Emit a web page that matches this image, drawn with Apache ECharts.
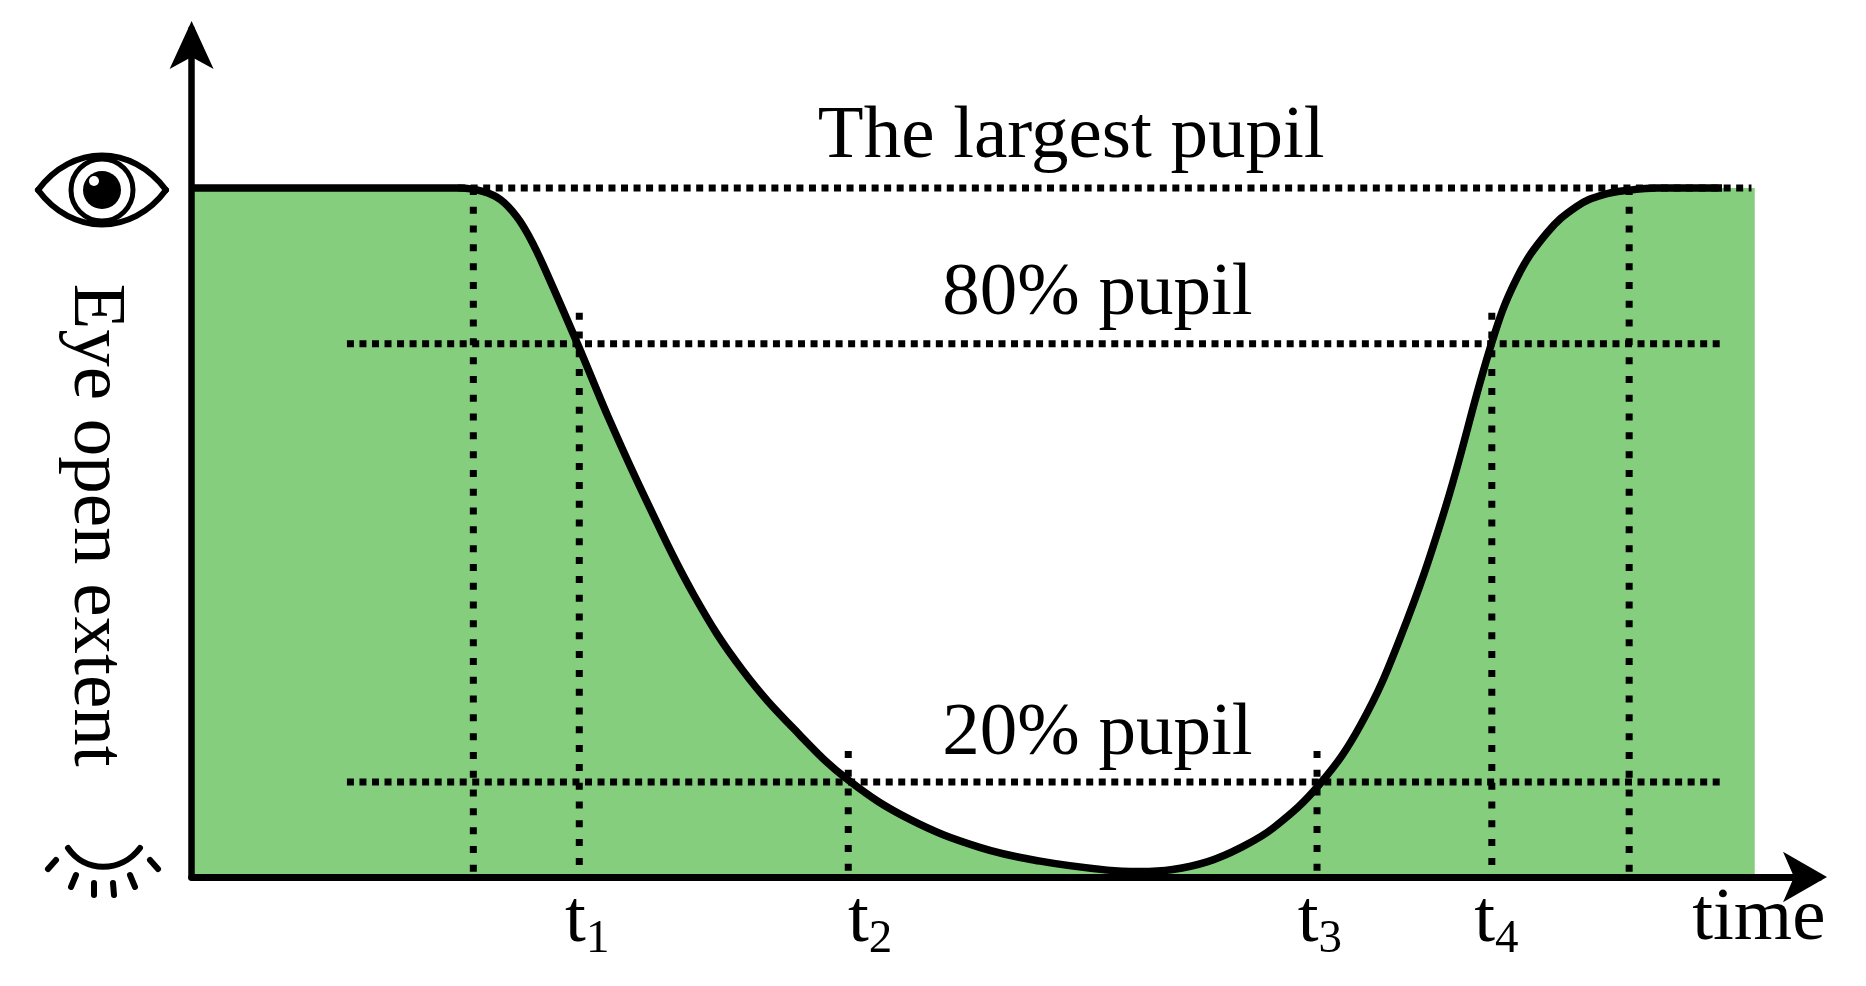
<!DOCTYPE html>
<html>
<head>
<meta charset="utf-8">
<title>Eye open extent</title>
<script src="https://cdn.jsdelivr.net/npm/echarts@6/dist/echarts.min.js"></script>
<style>
  html, body { margin: 0; height: 100%; background: #fff; }
  #chart { width: 1866px; height: 986px; }
</style>
</head>
<body>
<div id="chart"></div>
<script>
// time is in arbitrary units along the x axis, eye extent is 100 at the largest pupil
const curveTime = [0, 6.5, 16.4, 17.8, 18.9, 19.9, 20.7, 21.5, 23.6, 25.6, 27.8, 30.7, 33.7, 37.2, 40.2, 43.9, 48.2, 51.9, 56, 58, 60, 62.1, 64.1, 66.2, 69, 71.5, 73.9, 76.6, 79.5, 81.05, 82.9, 84.7, 86.3, 88, 89.6, 93.6];
const curveExtent = [100, 100, 100, 99.5, 98.3, 95.8, 92.7, 88.8, 77.4, 66.1, 54.7, 41, 30, 20.6, 14, 8.4, 4.3, 2.3, 1, 0.8, 1.1, 2.2, 4.2, 7.2, 13.5, 22.1, 34.6, 53, 77.4, 86.9, 93.5, 97.3, 99, 99.7, 100, 100];
const fillEndTime = 95.6;

const guideLevels = [100, 77.4, 13.8];
const guideStart = [16.3, 9.5, 9.5];
const guideEnd = [95.4, 93.6, 93.6];
const guideNames = ["The largest pupil", "80% pupil", "20% pupil"];
const guideNameTime = [53.8, 55.4, 55.4];
const guideNameExtent = [107.3, 84.5, 20.7];

const markTime = [17.23, 23.71, 40.16, 68.83, 79.52, 87.92];
const markTop = [100, 81.9, 18.3, 18.3, 81.9, 100];

const tickNames = ["1", "2", "3", "4"];
const tickNameTime = [24.2, 41.5, 69, 79.8];
const tickNameExtent = -6.5;

const xAxisName = "time";
const xAxisNameTime = 95.85;
const xAxisNameExtent = -6.2;
const yAxisName = "Eye open extent";

const serif = "Liberation Serif";
const curve = curveTime.map((t, i) => [t, curveExtent[i]]);

const guideSeries = guideLevels.map((level, i) => ({
  type: "line",
  silent: true,
  symbol: "none",
  z: 3,
  lineStyle: { color: "#000", width: 7, type: [7, 5.53], cap: "butt" },
  data: [[guideStart[i], level], [guideEnd[i], level]],
}));

const markSeries = markTime.map((t, i) => ({
  type: "line",
  silent: true,
  symbol: "none",
  z: 3,
  lineStyle: { color: "#000", width: 7, type: [7, 11.8], cap: "butt" },
  data: [[t, markTop[i]], [t, 0]],
}));

const iconLine = { fill: "none", stroke: "#000", lineWidth: 6, lineCap: "round" };
const lash = (x1, y1, x2, y2) => ({ type: "line", shape: { x1, y1, x2, y2 }, style: iconLine });

const chart = echarts.init(document.getElementById("chart"));
chart.setOption({
  animation: false,
  backgroundColor: "#fff",
  // the axis ends sit 8px short of the arrow tips so the lines stop inside the arrow heads
  grid: { left: 191.6, right: 47, top: 29, bottom: 109 },
  xAxis: {
    type: "value",
    min: 0,
    max: 99.53,
    z: 6,
    axisLine: { onZero: false, symbol: ["none", "arrow"], symbolSize: [38, 44], symbolOffset: [0, 8], lineStyle: { color: "#000", width: 7 } },
    axisTick: { show: false },
    axisLabel: { show: false },
    splitLine: { show: false },
  },
  yAxis: {
    type: "value",
    min: 0,
    max: 123.07,
    z: 6,
    axisLine: { symbol: ["none", "arrow"], symbolSize: [33, 48], symbolOffset: [0, 8], lineStyle: { color: "#000", width: 6.5 } },
    axisTick: { show: false },
    axisLabel: { show: false },
    splitLine: { show: false },
  },
  series: [
    {
      type: "line",
      silent: true,
      symbol: "none",
      smooth: 0.4,
      z: 1,
      lineStyle: { width: 0 },
      areaStyle: { color: "#84ce7d", opacity: 1 },
      data: [...curve, [fillEndTime, 100]],
    },
    ...guideSeries,
    ...markSeries,
    {
      type: "line",
      silent: true,
      symbol: "none",
      smooth: 0.4,
      z: 4,
      lineStyle: { color: "#000", width: 7.5 },
      data: curve,
    },
    {
      type: "scatter",
      silent: true,
      symbolSize: 1,
      itemStyle: { color: "rgba(0,0,0,0)", opacity: 1 },
      clip: false,
      z: 5,
      label: {
        show: true,
        position: "inside",
        formatter: (p) => p.data[2],
        fontFamily: serif,
        fontSize: 75,
        color: "#000",
      },
      data: guideNames.map((name, i) => [guideNameTime[i], guideNameExtent[i], name])
        .concat([[xAxisNameTime, xAxisNameExtent, xAxisName]]),
    },
    {
      type: "scatter",
      silent: true,
      symbolSize: 1,
      itemStyle: { color: "rgba(0,0,0,0)", opacity: 1 },
      clip: false,
      z: 5,
      label: {
        show: true,
        position: "inside",
        formatter: (p) => "{t|t}{s|" + p.data[2] + "}",
        rich: {
          t: { fontFamily: serif, fontSize: 75, color: "#000" },
          s: { fontFamily: serif, fontSize: 47, color: "#000", padding: [36, 0, 0, 0] },
        },
      },
      data: tickNames.map((name, i) => [tickNameTime[i], tickNameExtent, name]),
    },
  ],
  graphic: [
    {
      type: "text",
      x: 95,
      y: 525,
      rotation: -Math.PI / 2,
      style: { text: yAxisName, fontFamily: serif, fontSize: 75, fill: "#000", align: "center", verticalAlign: "middle" },
    },
    // open eye icon
    {
      type: "group",
      x: 102,
      y: 190,
      children: [
        { type: "bezierCurve", shape: { x1: -64, y1: 0, x2: 64, y2: 0, cpx1: -30, cpy1: -46, cpx2: 30, cpy2: -46 }, style: iconLine },
        { type: "bezierCurve", shape: { x1: -64, y1: 0, x2: 64, y2: 0, cpx1: -30, cpy1: 46, cpx2: 30, cpy2: 46 }, style: iconLine },
        { type: "circle", shape: { cx: 0, cy: 0, r: 31 }, style: { fill: "#fff", stroke: "#000", lineWidth: 5 } },
        { type: "circle", shape: { cx: 0, cy: 0, r: 19 }, style: { fill: "#000" } },
        { type: "circle", shape: { cx: -8, cy: -9, r: 5 }, style: { fill: "#fff" } },
      ],
    },
    // closed eye icon
    {
      type: "group",
      x: 103,
      y: 850,
      children: [
        { type: "bezierCurve", shape: { x1: -35, y1: -2, x2: 37, y2: -2, cpx1: -18, cpy1: 23, cpx2: 18, cpy2: 23 }, style: iconLine },
        lash(-55, 19, -47, 10),
        lash(-32, 37, -27, 25),
        lash(-9, 45, -9, 33),
        lash(11, 45, 10, 33),
        lash(32, 37, 27, 25),
        lash(55, 19, 47, 10),
      ],
    },
  ],
});
</script>
</body>
</html>
